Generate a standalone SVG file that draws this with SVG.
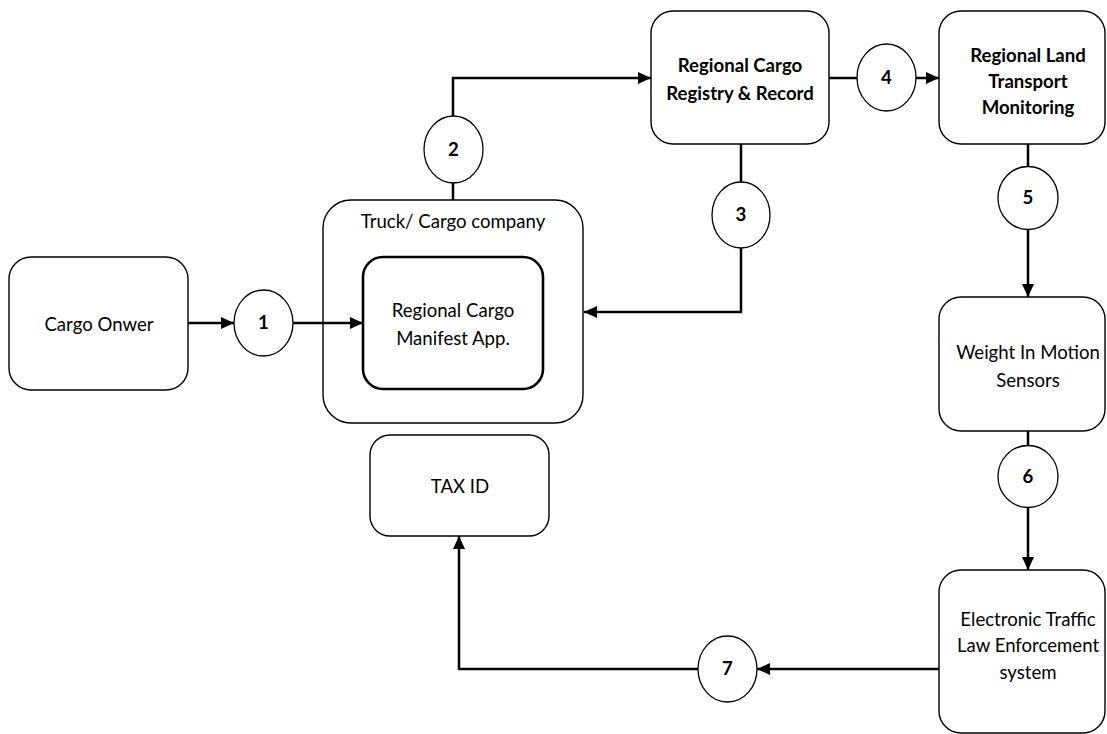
<svg xmlns="http://www.w3.org/2000/svg" width="1107" height="734" viewBox="0 0 1107 734">
<style>
.box{fill:#fff;stroke:#000;stroke-width:1.4}
.inner{fill:#fff;stroke:#000;stroke-width:2.6}
.circ{fill:#fff;stroke:#000;stroke-width:1.3}
.t{font-family:Lato,"Open Sans","Liberation Sans",sans-serif;font-size:18.6px;fill:#000;text-anchor:middle}
.b{font-weight:bold}
.c{fill:none;stroke:#000;stroke-width:2.5}
</style>
<defs>
<marker id="arr" markerUnits="userSpaceOnUse" markerWidth="14" markerHeight="14" refX="13" refY="7" orient="auto">
<path d="M0,1 L13,7 L0,13 z" fill="#000"/>
</marker>
</defs>
<rect width="1107" height="734" fill="#fff"/>
<g id="cargo-owner">
<rect class="box" x="9" y="257" width="179" height="133" rx="22"/>
<text class="t" x="99" y="331">Cargo Onwer</text>
</g>
<g id="truck-company">
<rect class="box" x="323" y="200" width="260" height="223" rx="28"/>
<text class="t" x="453" y="228">Truck/ Cargo company</text>
</g>
<g id="manifest-app">
<rect class="inner" x="363" y="257" width="180" height="132" rx="20"/>
<text class="t" x="453" y="317">Regional Cargo</text>
<text class="t" x="453" y="345">Manifest App.</text>
</g>
<g id="tax-id">
<rect class="box" x="370" y="435" width="179" height="101" rx="20"/>
<text class="t" x="460" y="493">TAX ID</text>
</g>
<g id="registry">
<rect class="box" x="651" y="11" width="178" height="133" rx="22"/>
<text class="t b" x="740" y="72">Regional Cargo</text>
<text class="t b" x="740" y="100">Registry &amp; Record</text>
</g>
<g id="land-monitoring">
<rect class="box" x="939" y="11" width="166" height="133" rx="22"/>
<text class="t b" x="1028" y="62">Regional Land</text>
<text class="t b" x="1028" y="88">Transport</text>
<text class="t b" x="1028" y="114">Monitoring</text>
</g>
<g id="wim-sensors">
<rect class="box" x="939" y="297" width="166" height="134" rx="22"/>
<text class="t" x="1028" y="359">Weight In Motion</text>
<text class="t" x="1028" y="387">Sensors</text>
</g>
<g id="etle">
<rect class="box" x="939" y="570" width="166" height="163" rx="22"/>
<text class="t" x="1028" y="626">Electronic Traffic</text>
<text class="t" x="1028" y="652">Law Enforcement</text>
<text class="t" x="1028" y="679">system</text>
</g>
<g id="connectors">
<path class="c" d="M188,323 H234" marker-end="url(#arr)"/>
<path class="c" d="M293,323 H363" marker-end="url(#arr)"/>
<path class="c" d="M453,200 V183"/>
<path class="c" d="M453,116 V78 H651" marker-end="url(#arr)"/>
<path class="c" d="M741,144 V182"/>
<path class="c" d="M741,248 V312 H584" marker-end="url(#arr)"/>
<path class="c" d="M829,78 H857"/>
<path class="c" d="M916,78 H939" marker-end="url(#arr)"/>
<path class="c" d="M1028,144 V167"/>
<path class="c" d="M1028,229 V297" marker-end="url(#arr)"/>
<path class="c" d="M1028,431 V446"/>
<path class="c" d="M1028,507 V570" marker-end="url(#arr)"/>
<path class="c" d="M939,669 H757" marker-end="url(#arr)"/>
<path class="c" d="M698,669 H459 V536" marker-end="url(#arr)"/>
</g>
<g id="step1"><ellipse class="circ" cx="263.5" cy="323" rx="29.5" ry="33"/><text class="t b" x="263.5" y="329">1</text></g>
<g id="step2"><ellipse class="circ" cx="453.5" cy="149.5" rx="29.5" ry="33.5"/><text class="t b" x="453.5" y="156">2</text></g>
<g id="step3"><ellipse class="circ" cx="741" cy="215" rx="29" ry="33"/><text class="t b" x="741" y="221">3</text></g>
<g id="step4"><ellipse class="circ" cx="886.5" cy="77.5" rx="29.5" ry="33.5"/><text class="t b" x="886.5" y="84">4</text></g>
<g id="step5"><ellipse class="circ" cx="1028" cy="198" rx="30" ry="31.5"/><text class="t b" x="1028" y="204">5</text></g>
<g id="step6"><ellipse class="circ" cx="1028" cy="476.5" rx="30" ry="31"/><text class="t b" x="1028" y="483">6</text></g>
<g id="step7"><ellipse class="circ" cx="727.5" cy="669" rx="29.5" ry="33"/><text class="t b" x="727.5" y="675">7</text></g>
</svg>
